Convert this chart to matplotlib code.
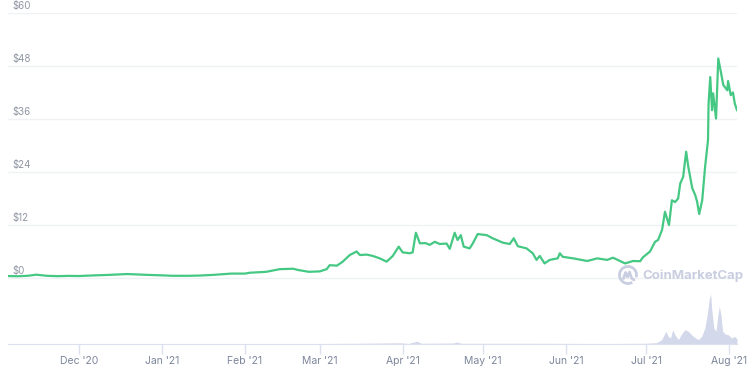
import matplotlib
matplotlib.use('Agg')
import matplotlib.pyplot as plt
import pandas as pd
from matplotlib.patches import Arc
from matplotlib.lines import Line2D

plt.rcParams['font.family'] = ['Inter', 'DejaVu Sans']

# price history (USD)
price_dates = [
    '2020-11-04 12:00', '2020-11-08', '2020-11-12', '2020-11-15', '2020-11-19',
    '2020-11-23', '2020-11-27', '2020-12-01', '2020-12-07', '2020-12-12',
    '2020-12-19', '2020-12-23', '2020-12-27', '2021-01-01', '2021-01-05',
    '2021-01-11', '2021-01-15', '2021-01-20', '2021-01-27', '2021-02-01',
    '2021-02-03', '2021-02-09', '2021-02-14', '2021-02-19', '2021-02-21',
    '2021-02-25', '2021-03-01', '2021-03-03 14:00', '2021-03-04 17:00', '2021-03-07 10:00',
    '2021-03-09 14:00', '2021-03-12 05:00', '2021-03-14 19:00', '2021-03-16', '2021-03-18 14:00',
    '2021-03-20 19:00', '2021-03-23 10:00', '2021-03-26', '2021-03-28 07:00', '2021-03-30 12:00',
    '2021-04-01', '2021-04-03 14:00', '2021-04-04 17:00', '2021-04-05 22:00', '2021-04-07 10:00',
    '2021-04-09 14:00', '2021-04-11 02:00', '2021-04-13', '2021-04-14 19:00', '2021-04-17 10:00',
    '2021-04-18 14:00', '2021-04-20 10:00', '2021-04-21 12:00', '2021-04-22 17:00', '2021-04-23 19:00',
    '2021-04-26', '2021-04-27 05:00', '2021-04-29', '2021-05-02 10:00', '2021-05-04 14:00',
    '2021-05-08 10:00', '2021-05-11', '2021-05-12 12:00', '2021-05-14', '2021-05-17 07:00',
    '2021-05-19 14:00', '2021-05-21', '2021-05-22 05:00', '2021-05-24', '2021-05-25 22:00',
    '2021-05-28 22:00', '2021-05-29 17:00', '2021-05-30 19:00', '2021-06-03 17:00', '2021-06-08 22:00',
    '2021-06-12 17:00', '2021-06-16 10:00', '2021-06-18 14:00', '2021-06-23 02:00', '2021-06-26 02:00',
    '2021-06-28 17:00', '2021-06-29 19:00', '2021-07-02 10:00', '2021-07-04 07:00', '2021-07-05 10:00',
    '2021-07-06 22:00', '2021-07-08', '2021-07-09 12:00', '2021-07-10 14:00', '2021-07-11 19:00',
    '2021-07-12 22:00', '2021-07-13 17:00', '2021-07-14 19:00', '2021-07-15 22:00', '2021-07-16 17:00',
    '2021-07-18 05:00', '2021-07-19 07:00', '2021-07-20', '2021-07-20 19:00', '2021-07-21 22:00',
    '2021-07-23', '2021-07-24 02:00', '2021-07-24 07:00', '2021-07-24 22:00', '2021-07-25 14:00',
    '2021-07-26', '2021-07-27 02:00', '2021-07-27 22:00', '2021-07-29', '2021-07-29 19:00',
    '2021-07-31 07:00', '2021-07-31 14:00', '2021-08-01 14:00', '2021-08-02 10:00', '2021-08-03 02:00',
    '2021-08-03 22:00',
]
price_usd = [
    0.45, 0.40, 0.50, 0.75, 0.50,
    0.42, 0.48, 0.45, 0.60, 0.70,
    0.90, 0.80, 0.70, 0.60, 0.50,
    0.50, 0.55, 0.70, 1.00, 1.00,
    1.20, 1.40, 2.00, 2.10, 1.80,
    1.40, 1.50, 2.00, 2.90, 2.80,
    3.70, 5.20, 6.00, 5.20, 5.30,
    5.00, 4.45, 3.70, 5.00, 7.10,
    5.80, 5.60, 5.80, 10.25, 7.85,
    7.90, 7.50, 8.20, 7.70, 7.80,
    6.60, 10.25, 8.60, 9.70, 7.10,
    6.70, 7.85, 9.95, 9.70, 9.00,
    8.00, 7.70, 9.00, 7.20, 6.70,
    5.60, 4.10, 5.00, 3.30, 4.10,
    4.45, 5.60, 4.80, 4.45, 3.85,
    4.45, 4.10, 4.60, 3.30, 3.85,
    3.80, 4.70, 6.00, 8.20, 8.60,
    10.90, 15.00, 12.00, 17.60, 17.20,
    18.00, 21.40, 22.90, 28.60, 25.20,
    20.30, 18.80, 17.30, 14.50, 17.60,
    25.20, 31.20, 39.50, 45.50, 38.00,
    41.80, 36.10, 49.70, 46.30, 43.70,
    42.50, 44.60, 41.40, 42.00, 39.50,
    38.00,
]

# trading volume (million USD)
vol_dates = [
    '2020-11-04 12:00', '2020-12-15', '2021-02-15', '2021-03-14', '2021-03-31 12:00',
    '2021-04-03', '2021-04-06 07:00', '2021-04-08', '2021-04-20', '2021-04-21',
    '2021-04-23', '2021-05-20', '2021-06-15', '2021-06-30', '2021-07-03',
    '2021-07-04 22:00', '2021-07-06 18:00', '2021-07-08 09:00', '2021-07-09 05:00', '2021-07-10 02:00',
    '2021-07-10 21:00', '2021-07-11 17:00', '2021-07-12 23:00', '2021-07-14 05:00', '2021-07-15 11:00',
    '2021-07-16 17:00', '2021-07-18 13:00', '2021-07-20 10:00', '2021-07-21 17:00', '2021-07-22 22:00',
    '2021-07-23 19:00', '2021-07-24 12:00', '2021-07-25 02:00', '2021-07-25 13:00', '2021-07-26 07:00',
    '2021-07-27 01:00', '2021-07-27 19:00', '2021-07-28 07:00', '2021-07-28 22:00', '2021-07-29 13:00',
    '2021-07-30 10:00', '2021-07-31 14:00', '2021-08-01 22:00', '2021-08-03 02:00', '2021-08-03 22:00',
]
vol_musd = [
    10, 10, 20, 40, 70,
    30, 160, 40, 60, 120,
    40, 40, 30, 40, 60,
    80, 260, 760, 460, 360,
    860, 560, 260, 600, 860,
    760, 460, 260, 460, 960,
    1760, 2660, 3000, 1960, 960,
    760, 1760, 2260, 1760, 760,
    600, 560, 360, 460, 300,
]

y_ticks = [0, 12, 24, 36, 48, 60]
month_ticks = ['2020-12-01', '2021-01-01', '2021-02-01', '2021-03-01', '2021-04-01',
               '2021-05-01', '2021-06-01', '2021-07-01', '2021-08-01']
month_labels = ["Dec '20", "Jan '21", "Feb '21", "Mar '21", "Apr '21",
                "May '21", "Jun '21", "Jul '21", "Aug '21"]

px = pd.to_datetime(price_dates, format='mixed')
vx = pd.to_datetime(vol_dates, format='mixed')

fig = plt.figure(figsize=(7.54, 3.74), dpi=100)
ax = fig.add_axes([8 / 754, 30 / 374, 729 / 754, 331 / 374])
ax2 = ax.twinx()

# volume underneath
ax2.fill_between(vx, 0, vol_musd, color='#d3d8ea', lw=0)
ax2.set_ylim(0, 3000 * 331 / 50)
ax2.axis('off')
ax.set_zorder(ax2.get_zorder() + 1)
ax.patch.set_visible(False)

for v in y_ticks:
    ax.axhline(v, color='#eff1f4', lw=1, zorder=0)
    ax.annotate(f'${v}', xy=(0, v), xycoords=ax.get_yaxis_transform(),
                xytext=(3, 1.5), textcoords='offset points',
                fontsize=7, color='#8f95a3', va='bottom', ha='left')

ax.plot(px, price_usd, color='#45c883', lw=1.6, solid_joinstyle='round', zorder=3)

ax.set_xlim(px[0], px[-1])
ax.set_ylim(-66 / 4.417, 60)
ax.set_yticks([])
ax.set_xticks(pd.to_datetime(month_ticks))
ax.set_xticklabels(month_labels)
ax.tick_params(axis='x', length=7, width=1, color='#dde1ef', labelcolor='#7c869b',
               labelsize=7.5, pad=1.5)
for s in ['top', 'right', 'left']:
    ax.spines[s].set_visible(False)
ax.spines['bottom'].set_color('#dde1ef')

# watermark logo + wordmark (in inches from figure bottom-left)
wm = '#c9cee0'
cx, cy = 6.28, 0.99
fig.patches.append(Arc((cx, cy), 0.17, 0.17, theta1=-15, theta2=300,
                       transform=fig.dpi_scale_trans, ec=wm, lw=2))
fig.lines.append(Line2D([cx - 0.045, cx - 0.025, cx - 0.005, cx + 0.015, cx + 0.035, cx + 0.06],
                        [cy - 0.035, cy + 0.025, cy - 0.02, cy + 0.03, cy - 0.03, cy - 0.05],
                        transform=fig.dpi_scale_trans, color=wm, lw=2,
                        solid_joinstyle='round', solid_capstyle='round'))
fig.text(642 / 754, 1 - 276 / 374, 'CoinMarketCap', fontsize=9.5, fontweight='bold',
         color=wm, va='center', ha='left')

fig.savefig('out.png', dpi=100)
